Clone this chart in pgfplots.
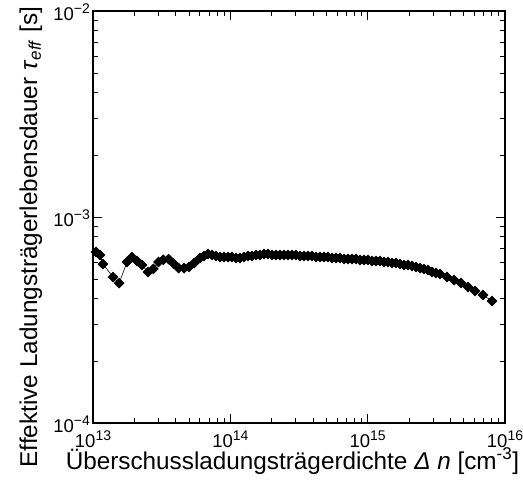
\documentclass[border=0pt]{standalone}
\usepackage{pgfplots}
\pgfplotsset{compat=1.18}
\usepackage{fontspec}
\setmainfont{Liberation Sans}
\newcommand\tickfont{\fontsize{18.5}{22}\selectfont}
\newcommand\labfont{\fontsize{24.3}{29}\selectfont}
\newcommand\tl[1]{{\tickfont 10\raisebox{7pt}{\fontsize{14}{16}\selectfont #1}}}
\pgfplotstableread{
x y
1.05e13 6.76e-4
1.125e13 6.54e-4
1.18e13 5.91e-4
1.40e13 5.11e-4
1.55e13 4.78e-4
1.77e13 6.05e-4
1.92e13 6.39e-4
2.09e13 6.12e-4
2.27e13 5.85e-4
2.51e13 5.41e-4
2.75e13 5.60e-4
3.00e13 6.05e-4
3.25e13 6.20e-4
3.55e13 6.25e-4
3.85e13 5.95e-4
4.20e13 5.65e-4
4.60e13 5.65e-4
5.00e13 5.72e-4
5.45e13 5.98e-4
6.01e13 6.32e-4
6.43e13 6.47e-4
6.88e13 6.61e-4
7.36e13 6.54e-4
7.86e13 6.47e-4
8.41e13 6.39e-4
8.99e13 6.39e-4
9.62e13 6.39e-4
1.028e14 6.39e-4
1.100e14 6.32e-4
1.176e14 6.32e-4
1.257e14 6.39e-4
1.345e14 6.47e-4
1.438e14 6.47e-4
1.538e14 6.54e-4
1.644e14 6.54e-4
1.759e14 6.61e-4
1.881e14 6.61e-4
2.011e14 6.54e-4
2.151e14 6.54e-4
2.300e14 6.54e-4
2.459e14 6.54e-4
2.630e14 6.54e-4
2.812e14 6.54e-4
3.008e14 6.54e-4
3.216e14 6.47e-4
3.439e14 6.47e-4
3.678e14 6.47e-4
3.933e14 6.47e-4
4.206e14 6.39e-4
4.498e14 6.39e-4
4.809e14 6.39e-4
5.143e14 6.39e-4
5.500e14 6.32e-4
5.881e14 6.32e-4
6.289e14 6.32e-4
6.726e14 6.25e-4
7.192e14 6.25e-4
7.691e14 6.25e-4
8.225e14 6.25e-4
8.796e14 6.18e-4
9.404e14 6.18e-4
1.006e15 6.18e-4
1.075e15 6.12e-4
1.150e15 6.12e-4
1.230e15 6.12e-4
1.315e15 6.05e-4
1.406e15 6.05e-4
1.504e15 5.98e-4
1.608e15 5.98e-4
1.720e15 5.91e-4
1.839e15 5.85e-4
1.967e15 5.85e-4
2.103e15 5.78e-4
2.249e15 5.72e-4
2.405e15 5.65e-4
2.572e15 5.59e-4
2.750e15 5.53e-4
2.941e15 5.41e-4
3.145e15 5.35e-4
3.363e15 5.29e-4
3.782e15 5.11e-4
4.254e15 4.94e-4
4.784e15 4.78e-4
5.378e15 4.57e-4
6.048e15 4.37e-4
6.917e15 4.18e-4
8.045e15 3.91e-4
}\mydata
\begin{document}
\begin{tikzpicture}
\begin{axis}[
  scale only axis, width=412pt, height=412pt,
  xmode=log, ymode=log,
  xmin=1e13, xmax=1e16, ymin=1e-4, ymax=1e-2,
  axis line style={line width=1.6pt},
  tick style={line width=1pt, black},
  major tick length=9pt, minor tick length=5pt,
  tick align=inside,
  xtick={1e13,1e14,1e15,1e16},
  xticklabels={\tl{13},\tl{14},\tl{15},\tl{16}},
  minor xtick={2e13,3e13,4e13,5e13,6e13,7e13,8e13,9e13,2e14,3e14,4e14,5e14,6e14,7e14,8e14,9e14,2e15,3e15,4e15,5e15,6e15,7e15,8e15,9e15},
  ytick={1e-4,1e-3,1e-2},
  yticklabels={\tl{−4},\tl{−3},\tl{−2}},
  minor ytick={2e-4,3e-4,4e-4,5e-4,6e-4,7e-4,8e-4,9e-4,2e-3,3e-3,4e-3,5e-3,6e-3,7e-3,8e-3,9e-3},
  /pgf/number format/assume math mode=true,
  x tick label style={font=\tickfont, anchor=base, yshift=-24pt, inner sep=0pt},
  y tick label style={font=\tickfont, anchor=east, yshift=-1pt, xshift=-3pt, inner sep=0pt},
  xlabel={Überschussladungsträgerdichte \textit{Δ n} [cm\textsuperscript{-3}]},
  ylabel={Effektive Ladungsträgerlebensdauer \textit{τ}\textsubscript{\textit{eff}} [s]},
  xlabel style={font=\labfont, at={(axis description cs:0.484,0)}, anchor=base, yshift=-46pt},
  ylabel style={font=\labfont, at={(axis description cs:0,0.451)}, anchor=base, yshift=56pt},
]
\addplot[black, line width=0.6pt, mark=square*, mark size=3.5pt,
  mark options={solid, fill=black, rotate=45}] table[x=x, y=y] {\mydata};
\end{axis}
\pgfresetboundingbox
\path (-93pt,-60pt) rectangle (430pt,423pt);
\end{tikzpicture}
\end{document}
